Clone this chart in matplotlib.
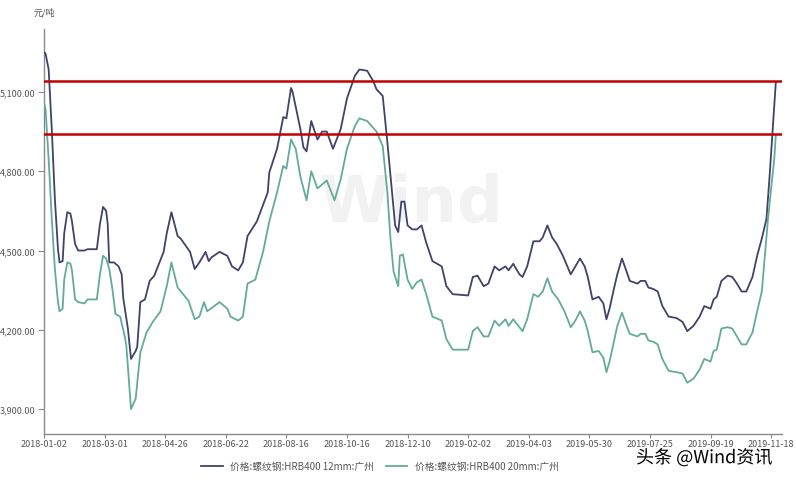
import matplotlib
matplotlib.use("Agg")
import matplotlib.pyplot as plt
import matplotlib.patheffects as pe
from matplotlib.ticker import FuncFormatter

plt.rcParams['font.family'] = ['Noto Sans CJK SC', 'DejaVu Sans']

# trading-day index (0 = 2018-01-02) and price, 元/吨
day12 = [0, 1, 3, 5, 7, 9, 10, 12, 13, 15, 17, 18, 20, 22, 26, 28, 34, 36, 38, 40, 41, 42,
         45, 48, 50, 51, 54, 56, 59, 60, 62, 65, 68, 71, 77, 79, 82, 86, 88, 94, 97, 100,
         104, 106, 108, 113, 118, 121, 125, 128, 131, 137, 144, 145, 150, 154, 156, 159,
         160, 165, 167, 169, 172, 176, 179, 182, 186, 191, 195, 200, 203, 208, 212, 214,
         218, 221, 224, 226, 228, 230, 232, 234, 237, 240, 243, 246, 250, 256, 259, 263,
         273, 276, 279, 283, 286, 290, 293, 297, 299, 302, 306, 308, 311, 315, 319, 321,
         324, 327, 330, 334, 339, 342, 345, 348, 350, 353, 357, 360, 362, 364, 367, 369,
         372, 375, 377, 382, 384, 387, 389, 392, 395, 398, 402, 407, 411, 414, 418, 422,
         425, 429, 431, 433, 436, 440, 443, 446, 449, 452, 456, 459, 462, 465, 467, 469, 471]
price12 = [5250, 5245, 5185, 4960, 4695, 4505, 4455, 4460, 4565, 4645, 4640, 4610, 4525,
           4500, 4500, 4505, 4505, 4600, 4665, 4650, 4600, 4455, 4455, 4440, 4410, 4320,
           4205, 4090, 4120, 4135, 4305, 4315, 4385, 4405, 4495, 4565, 4645, 4555, 4545,
           4495, 4430, 4455, 4495, 4460, 4475, 4495, 4480, 4440, 4425, 4455, 4555, 4610,
           4720, 4795, 4885, 5005, 5000, 5115, 5100, 4960, 4890, 4875, 4990, 4920, 4950,
           4950, 4885, 4960, 5075, 5160, 5185, 5180, 5140, 5110, 5085, 4910, 4720, 4595,
           4570, 4685, 4685, 4595, 4580, 4580, 4595, 4530, 4460, 4440, 4365, 4335, 4330,
           4400, 4405, 4365, 4375, 4440, 4425, 4440, 4425, 4450, 4410, 4400, 4440, 4535,
           4535, 4550, 4595, 4550, 4525, 4480, 4410, 4440, 4470, 4440, 4400, 4315, 4325,
           4300, 4240, 4280, 4360, 4410, 4470, 4420, 4385, 4375, 4385, 4385, 4360, 4355,
           4345, 4290, 4250, 4245, 4230, 4195, 4215, 4250, 4290, 4280, 4315, 4325, 4385,
           4405, 4400, 4375, 4345, 4345, 4400, 4480, 4545, 4620, 4780, 4960, 5135]

day20 = [0, 1, 3, 5, 7, 9, 10, 12, 13, 15, 17, 18, 20, 22, 26, 28, 34, 36, 38, 40, 42, 44,
         46, 49, 52, 53, 56, 59, 62, 66, 70, 75, 79, 82, 86, 93, 97, 100, 103, 105, 113,
         118, 120, 125, 128, 131, 136, 141, 145, 150, 154, 156, 159, 162, 165, 169, 172,
         176, 182, 187, 191, 195, 200, 203, 208, 214, 218, 221, 223, 225, 228, 229, 231,
         234, 237, 240, 243, 246, 250, 256, 259, 263, 273, 276, 279, 283, 286, 290, 293,
         297, 299, 302, 306, 308, 311, 315, 318, 321, 324, 327, 331, 335, 339, 342, 345,
         348, 350, 353, 357, 360, 362, 364, 367, 369, 372, 375, 377, 382, 384, 387, 389,
         392, 395, 398, 402, 407, 411, 414, 418, 422, 425, 429, 431, 433, 436, 440, 443,
         446, 449, 452, 456, 459, 462, 466, 468, 470, 471]
price20 = [5060, 5035, 4845, 4620, 4430, 4305, 4270, 4280, 4390, 4455, 4450, 4425, 4315,
           4305, 4300, 4315, 4315, 4410, 4480, 4470, 4430, 4355, 4260, 4250, 4175, 4140,
           3900, 3940, 4115, 4190, 4230, 4270, 4365, 4455, 4360, 4310, 4240, 4250, 4305,
           4270, 4305, 4280, 4250, 4235, 4250, 4375, 4390, 4495, 4610, 4720, 4820, 4810,
           4920, 4885, 4780, 4690, 4800, 4735, 4765, 4690, 4770, 4885, 4970, 5000, 4990,
           4950, 4895, 4720, 4545, 4420, 4365, 4480, 4485, 4390, 4355, 4380, 4390, 4335,
           4250, 4235, 4165, 4125, 4125, 4195, 4210, 4175, 4175, 4235, 4215, 4240, 4215,
           4240, 4210, 4195, 4240, 4335, 4325, 4345, 4395, 4345, 4315, 4270, 4210, 4235,
           4270, 4235, 4195, 4115, 4120, 4095, 4040, 4080, 4160, 4215, 4265, 4215, 4185,
           4175, 4185, 4185, 4160, 4155, 4145, 4090, 4045, 4040, 4035, 4000, 4015, 4050,
           4090, 4080, 4120, 4125, 4205, 4210, 4205, 4175, 4145, 4145, 4190, 4270, 4345,
           4620, 4735, 4845, 4935]

red_levels = [5140, 4940]

tick_days = [0, 39, 78, 117, 156, 195, 234, 273, 312, 351, 390, 429, 468]
tick_labels = ['2018-01-02', '2018-03-01', '2018-04-26', '2018-06-22', '2018-08-16',
               '2018-10-16', '2018-12-10', '2019-02-02', '2019-04-03', '2019-05-30',
               '2019-07-25', '2019-09-19', '2019-11-18']
y_ticks = [3900, 4200, 4500, 4800, 5100]

labels = ['价格:螺纹钢:HRB400 12mm:广州', '价格:螺纹钢:HRB400 20mm:广州']
navy = '#3f4369'
teal = '#62ab9b'
grey = '#8a8a8a'

fig = plt.figure(figsize=(7.96, 4.81), dpi=100)
ax = fig.add_axes([44 / 796, 1 - 435 / 481, (782 - 44) / 796, (435 - 30) / 481])

# faint watermark
ax.text(0.497, 0.57, 'Wind', transform=ax.transAxes, ha='center', va='center',
        fontsize=46, fontweight='bold', color='#f2f2f2', family='DejaVu Sans', zorder=0)

ax.plot(day12, price12, color=navy, lw=1.3, label=labels[0], zorder=3)
ax.plot(day20, price20, color=teal, lw=1.3, label=labels[1], zorder=3)
for lv in red_levels:
    ax.axhline(lv, color='#c40000', lw=1.8, zorder=4)

ax.set_xlim(0, 475)
ax.set_ylim(3806, 5338)
ax.set_xticks(tick_days)
ax.set_xticklabels(tick_labels)
ax.set_yticks(y_ticks)
ax.yaxis.set_major_formatter(FuncFormatter(lambda v, p: f'{v:,.2f}'))

for s in ['top', 'right']:
    ax.spines[s].set_visible(False)
for s in ['left', 'bottom']:
    ax.spines[s].set_color(grey)
    ax.spines[s].set_linewidth(1.0)
ax.tick_params(axis='both', colors=grey, labelcolor='#555555', labelsize=6.5,
               length=4, width=0.8, pad=2)
ax.tick_params(axis='x', length=3, pad=0.5)

ax.text(0, 1.03, '元/吨', transform=ax.transAxes, ha='center', va='bottom',
        fontsize=6.5, color='#555555')

fig.legend(loc='center', bbox_to_anchor=(380 / 796, 1 - 467 / 481), ncol=2,
           frameon=False, fontsize=7, handlelength=2.2, columnspacing=1.2,
           labelcolor='#555555')

fig.text(704 / 796, 1 - 459 / 481, '头条 @Wind资讯', ha='center', va='center',
         fontsize=13, color='black',
         path_effects=[pe.withStroke(linewidth=2.5, foreground='white')])

fig.savefig('out.png', dpi=100)
